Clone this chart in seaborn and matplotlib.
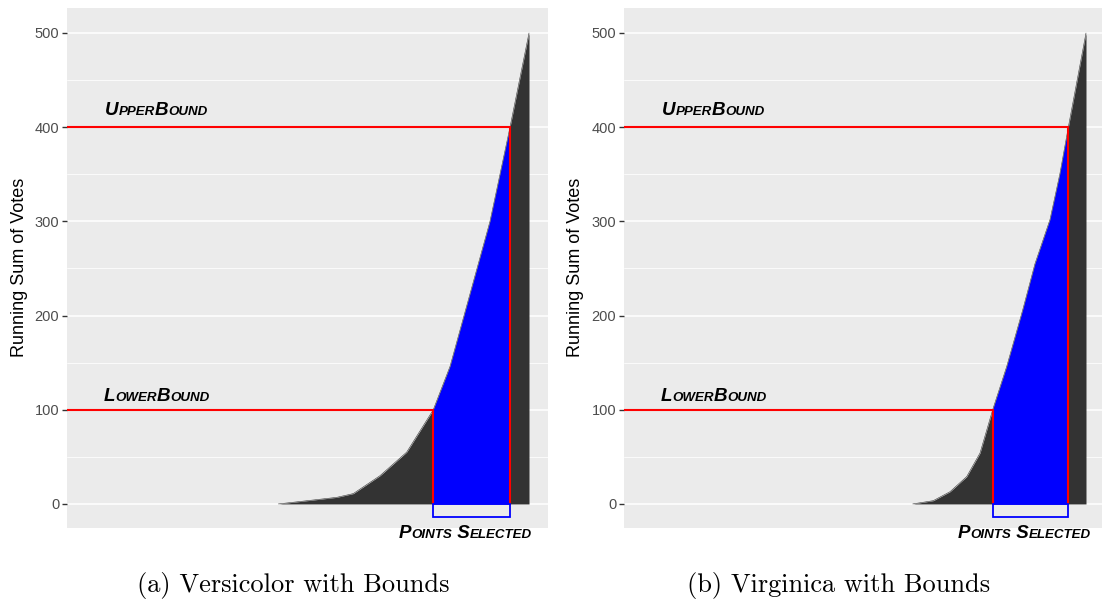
import numpy as np
import pandas as pd
import matplotlib
matplotlib.use("Agg")
import matplotlib.pyplot as plt
import seaborn as sns
from matplotlib import font_manager as fm
from matplotlib.patches import Rectangle
from matplotlib.transforms import IdentityTransform

# ---------------- data ----------------
versicolor_pos = [43.93, 56.07, 59.52, 65.07, 70.62, 76.15, 79.63, 87.94, 92.10, 96.05]
versicolor_votes = [0, 7, 11, 30, 55, 100, 146, 300, 400, 500]

virginica_pos = [60.27, 64.57, 68.06, 71.54, 74.32, 76.97, 79.90, 83.24,
                 85.80, 88.94, 91.02, 92.76, 96.45]
virginica_votes = [0, 3.5, 13, 29, 54, 100, 146, 206, 255, 302, 351, 400, 500]

lower_bound = 100
upper_bound = 400
selected_box_depth = 13.5

y_ticks = [0, 100, 200, 300, 400, 500]
y_minor = [50, 150, 250, 350, 450]
y_label = "Running Sum of Votes"
captions = ["(a) Versicolor with Bounds", "(b) Virginica with Bounds"]
upper_text = [("U", True), ("PPER", False), ("B", True), ("OUND", False)]
lower_text = [("L", True), ("OWER", False), ("B", True), ("OUND", False)]
points_text = [("P", True), ("OINTS", False), (" S", True), ("ELECTED", False)]

# ---------------- style ----------------
sns.set_theme(style="darkgrid", rc={
    "axes.facecolor": "#EBEBEB",
    "grid.color": "white",
    "axes.edgecolor": "#EBEBEB",
    "axes.linewidth": 0,
})
plt.rcParams["font.family"] = ["Liberation Sans", "DejaVu Sans"]

BIG, SMALL = 13.5, 9.6


def label_props(size):
    return fm.FontProperties(family=["Liberation Sans", "DejaVu Sans"],
                             weight="bold", style="italic", size=size)


W, H = 1102, 604
fig = plt.figure(figsize=(W / 100, H / 100), dpi=100)
fig.patch.set_facecolor("white")

panels = [
    (versicolor_pos, versicolor_votes, 67, 481, 20.0, 96.6),
    (virginica_pos, virginica_votes, 624, 479, 576.0, 97.5),
]
caption_x = [293.5, 838.5]


def smallcaps(ax, x, y, pieces, ha="left"):
    r = fig.canvas.get_renderer()
    px, py = ax.transData.transform((x, y))
    arts = []
    for s, big in pieces:
        t = fig.text(0, 0, s, transform=IdentityTransform(),
                     fontproperties=label_props(BIG if big else SMALL),
                     va="baseline", ha="left", color="black")
        arts.append(t)
    widths = [t.get_window_extent(r).width for t in arts]
    if ha == "right":
        px -= sum(widths)
    for t, w in zip(arts, widths):
        t.set_position((px, py))
        px += w


for i, (pos, votes, left_px, width_px, ylab_x, ps_right) in enumerate(panels):
    ax = fig.add_axes([left_px / W, 1 - 527.5 / H, width_px / W, 519.5 / H])
    df = pd.DataFrame({"pos": pos, "votes": votes})
    p = df["pos"].to_numpy()
    v = df["votes"].to_numpy(dtype=float)

    # full area (dark)
    ax.fill_between(p, 0, v, color="#333333", lw=0, zorder=2)
    sns.lineplot(data=df, x="pos", y="votes", ax=ax, color="#333333",
                 lw=0.4, zorder=1.9, legend=False)

    lo_x = p[np.argmax(v >= lower_bound)]
    hi_x = p[np.argmax(v >= upper_bound)]
    m = (p >= lo_x) & (p <= hi_x)
    ax.fill_between(p[m], 0, v[m], color="#0000FF", lw=0, zorder=3)

    # bound lines
    ax.plot([0, lo_x, lo_x], [lower_bound, lower_bound, 0], color="#FF0000",
            lw=1.5, zorder=4, solid_joinstyle="miter")
    ax.plot([0, hi_x, hi_x], [upper_bound, upper_bound, 0], color="#FF0000",
            lw=1.5, zorder=4, solid_joinstyle="miter")
    ax.add_patch(Rectangle((lo_x, -selected_box_depth), hi_x - lo_x,
                           selected_box_depth, fill=False, ec="#0000FF",
                           lw=1.3, zorder=4))

    ax.set_xlim(0, 100)
    ax.set_ylim(-25, 526.5)
    ax.set_xticks([])
    ax.set_yticks(y_ticks)
    ax.set_yticks(y_minor, minor=True)
    ax.grid(False, axis="x")
    ax.grid(True, axis="y", which="major", color="white", lw=1.1)
    ax.grid(True, axis="y", which="minor", color="white", lw=0.55)
    ax.tick_params(axis="y", which="major", length=3.5, width=1.0,
                   color="#333333", pad=2, labelsize=10.5,
                   labelcolor="#4D4D4D", left=True)
    ax.tick_params(axis="y", which="minor", length=0)
    ax.set_xlabel("")
    ax.set_ylabel("")
    for s in ax.spines.values():
        s.set_visible(False)

    fig.text(ylab_x / W, 1 - 267.5 / H, y_label, rotation=90, va="center",
             ha="center", fontsize=13, color="black")

    smallcaps(ax, 7.9, 413, upper_text)
    smallcaps(ax, 7.7, 109, lower_text)
    smallcaps(ax, ps_right, -36, points_text, ha="right")

    fig.text(caption_x[i] / W, 1 - 592 / H, captions[i], family="cmr10",
             fontsize=19, ha="center", va="baseline", color="black")

fig.savefig("out.png", dpi=100, facecolor="white")
